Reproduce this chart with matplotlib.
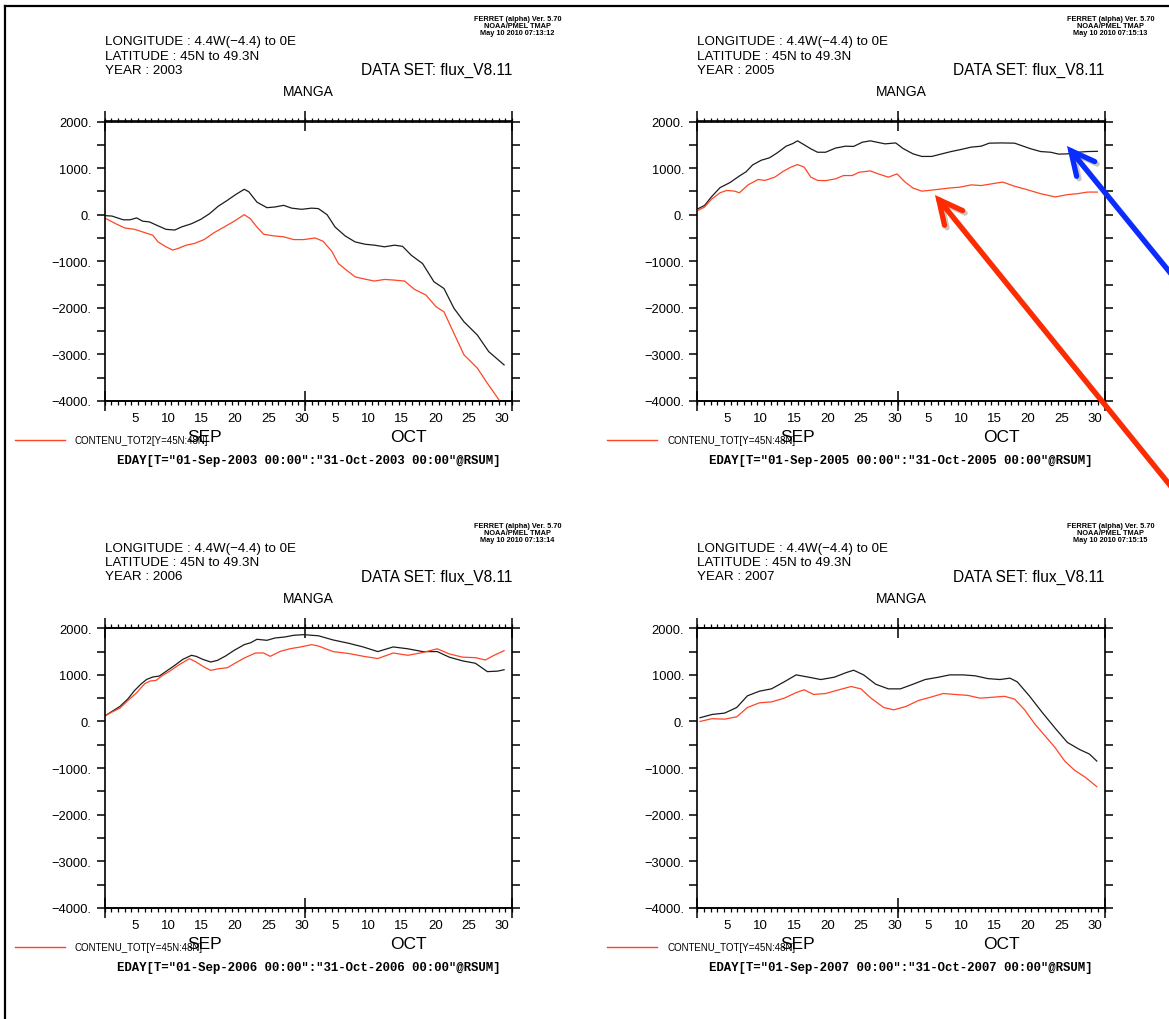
from __future__ import annotations
import matplotlib
matplotlib.use("Agg")
import matplotlib.pyplot as plt
from matplotlib.lines import Line2D
from matplotlib.patches import FancyArrowPatch
from matplotlib.ticker import FixedLocator, FuncFormatter, MultipleLocator, NullLocator

W, H = 1169, 1020
plt.rcParams["font.family"] = ["Liberation Sans", "DejaVu Sans"]

BLACK = "#1c1c1c"
RED = "#ff4526"

# x = days since 01-Sep 00:00 ; tick labels sit on day centres
TICK_DAYS = [4.5, 9.5, 14.5, 19.5, 24.5, 29.5, 34.5, 39.5, 44.5, 49.5, 54.5, 59.5]
TICK_LABELS = ["5", "10", "15", "20", "25", "30", "5", "10", "15", "20", "25", "30"]
MONTHS = ["SEP", "OCT"]
MONTH_MID = [15, 45.5]
MONTH_EDGES = [0, 30, 61]

# ---- 2003
K03_DAY = [0, 1.1, 2.8, 3.8, 4.8, 5.7, 6.7, 8, 9.2, 10.5, 11.5, 13, 14.4, 15.7, 17, 18.4, 19.6,
           20.9, 21.6, 22.8, 24.3, 25.5, 26.8, 28, 29.5, 31, 32, 33.3, 34.5, 36, 37.5, 39, 40.4,
           41.9, 43.4, 44.6, 45.9, 47.6, 49.3, 50.8, 52.3, 53.8, 55.8, 57.5, 59.8]
K03_VAL = [-20, -30, -110, -110, -70, -140, -155, -240, -315, -330, -265, -195, -100, 20, 180, 310,
           430, 545, 490, 270, 150, 165, 200, 140, 115, 140, 130, 0, -265, -455, -585, -635, -655,
           -690, -655, -680, -870, -1050, -1440, -1585, -2010, -2300, -2585, -2940, -3225]
R03_DAY = [0, 1.6, 3.0, 4.5, 6, 7.2, 8, 9.2, 10.2, 11, 12.2, 13.4, 14.9, 16.4, 17.9, 19.4, 20.9,
           21.8, 22.8, 23.8, 25.3, 26.8, 28.3, 29.8, 31.5, 32.7, 34, 35, 36.2, 37.5, 39, 40.4, 41.9,
           43.4, 44.9, 46.4, 48.1, 49.6, 50.8, 52.3, 53.8, 55.8, 57.3, 59.4]
R03_VAL = [-70, -190, -285, -315, -385, -440, -585, -690, -760, -725, -655, -620, -535, -385, -265,
           -140, 0, -85, -265, -420, -455, -475, -535, -535, -500, -570, -785, -1050, -1190, -1335,
           -1385, -1425, -1390, -1405, -1425, -1605, -1725, -1975, -2085, -2550, -3010, -3295,
           -3620, -4050]

# ---- 2005
K05_DAY = [0.15, 1.1, 2.1, 3.4, 4.9, 6.3, 7.3, 8.3, 9.6, 10.8, 12.0, 13.3, 14.3, 15.0, 16.0, 17.0,
           18.0, 19.2, 20.7, 22.2, 23.4, 24.7, 25.9, 26.9, 28.1, 29.7, 30.8, 32.3, 33.6, 35.1, 36.6,
           38.0, 39.5, 41.0, 42.5, 43.7, 45.5, 47.5, 48.5, 49.9, 51.4, 52.9, 54.1, 55.4, 56.9, 58.4,
           59.9]
K05_VAL = [130, 200, 380, 580, 690, 830, 920, 1070, 1170, 1220, 1330, 1470, 1527, 1585, 1500, 1413,
           1340, 1340, 1430, 1470, 1465, 1555, 1585, 1555, 1520, 1540, 1420, 1305, 1250, 1250, 1305,
           1355, 1400, 1450, 1470, 1535, 1540, 1535, 1485, 1415, 1355, 1340, 1300, 1305, 1340, 1355,
           1360]
R05_DAY = [0.15, 1.1, 2.1, 3.4, 4.4, 5.6, 6.3, 7.6, 9.1, 10.1, 11.6, 12.8, 14.0, 15.0, 16.0, 17.0,
           18.0, 19.2, 20.7, 21.9, 23.2, 24.2, 25.9, 27.1, 28.6, 29.9, 31.1, 32.3, 33.6, 35.6, 37.6,
           39.3, 41.0, 42.5, 44.0, 45.7, 47.5, 49.4, 51.4, 53.6, 55.4, 56.9, 58.4, 59.9]
R05_VAL = [95, 165, 330, 470, 520, 505, 470, 640, 755, 735, 805, 925, 1020, 1075, 1020, 805, 735,
           730, 770, 840, 840, 910, 940, 875, 805, 875, 700, 570, 505, 535, 570, 590, 640, 625, 660,
           700, 610, 535, 450, 380, 430, 450, 485, 485]

# ---- 2006
K06_DAY = [0, 1.1, 2.3, 3.5, 4.5, 5.5, 6.3, 7.2, 8.2, 9.2, 10.5, 11.7, 13.0, 13.7, 14.7, 15.9, 16.9,
           18.1, 19.4, 20.9, 21.9, 22.8, 24.3, 25.5, 27.0, 28.3, 29.8, 31.0, 32.0, 34.2, 36.5, 38.7,
           40.9, 43.2, 45.4, 47.6, 49.8, 51.6, 53.6, 55.5, 57.3, 58.8, 59.8]
K06_VAL = [115, 215, 323, 487, 667, 810, 903, 954, 975, 1075, 1204, 1333, 1420, 1398, 1333, 1276,
           1312, 1405, 1527, 1649, 1692, 1764, 1742, 1792, 1814, 1850, 1864, 1850, 1840, 1750, 1680,
           1600, 1500, 1600, 1560, 1500, 1500, 1380, 1300, 1250, 1070, 1080, 1110]
R06_DAY = [0, 1.1, 2.3, 3.5, 4.8, 6.0, 6.8, 7.7, 8.7, 9.7, 11.0, 12.0, 12.7, 13.7, 14.9, 15.9, 17.1,
           18.4, 19.4, 20.9, 22.6, 23.8, 24.8, 26.3, 27.8, 29.3, 31.0, 32.0, 34.2, 36.5, 38.7, 40.9,
           43.2, 45.4, 47.6, 49.8, 51.6, 53.6, 55.5, 57.0, 58.3, 59.8]
R06_VAL = [115, 201, 287, 452, 617, 810, 868, 882, 990, 1075, 1204, 1290, 1348, 1276, 1168, 1097,
           1133, 1154, 1240, 1362, 1470, 1470, 1398, 1505, 1563, 1598, 1649, 1620, 1500, 1460, 1400,
           1350, 1470, 1420, 1480, 1560, 1450, 1380, 1370, 1320, 1420, 1520]

# ---- 2007
K07_DAY = [0.4, 2.2, 4.1, 5.9, 7.5, 9.3, 11.1, 13.0, 14.8, 16.7, 18.5, 20.5, 22.3, 23.4, 24.9, 26.7,
           28.6, 30.4, 32.3, 34.1, 36.1, 37.8, 39.8, 41.6, 43.5, 45.3, 46.8, 47.9, 49.7, 51.6, 53.6,
           55.4, 57.2, 58.7, 59.8]
K07_VAL = [80, 150, 180, 300, 550, 650, 700, 850, 1000, 950, 900, 950, 1050, 1100, 1000, 800, 700,
           700, 800, 900, 950, 1000, 1000, 980, 920, 900, 930, 850, 550, 200, -150, -450, -600, -700,
           -850]
R07_DAY = [0.4, 2.2, 4.1, 5.9, 7.5, 9.3, 11.1, 13.0, 14.8, 16.0, 17.4, 19.2, 21.2, 23.0, 24.5, 26.0,
           27.9, 29.4, 31.2, 33.1, 34.9, 36.8, 38.6, 40.5, 42.3, 44.2, 46.0, 47.5, 49.0, 50.5, 52.0,
           53.5, 55.0, 56.5, 58.1, 59.8]
R07_VAL = [0, 60, 50, 100, 300, 400, 420, 500, 620, 680, 580, 600, 680, 750, 700, 500, 300, 250, 320,
           450, 520, 600, 580, 560, 500, 520, 540, 480, 250, -50, -300, -550, -850, -1050, -1200,
           -1400]

AX_W, AX_H = 407.5, 279.5


def _px(x, y):
    return x / W, 1 - y / H


def _yfmt(v, _):
    return f"{int(v)}.".replace("-", "\u2212")


def panel(fig, left, top, year, kd, kv, rd, rv, var, stamp):
    x0, y0 = _px(left, top + AX_H)
    ax = fig.add_axes([x0, y0, AX_W / W, AX_H / H])
    ax.plot(kd, kv, color=BLACK, lw=0.9)
    ax.plot(rd, rv, color=RED, lw=0.9)
    ax.set_xlim(0, 61)
    ax.set_ylim(-4000, 2000)
    for s in ax.spines.values():
        s.set_linewidth(1.2)

    ax.yaxis.set_major_locator(MultipleLocator(1000))
    ax.yaxis.set_minor_locator(MultipleLocator(500))
    ax.yaxis.set_major_formatter(FuncFormatter(_yfmt))
    ax.tick_params(axis="y", which="both", direction="out", length=6, width=1.1,
                   left=True, right=True, labelsize=9.3)

    ax.xaxis.set_major_locator(FixedLocator(TICK_DAYS))
    ax.set_xticklabels(TICK_LABELS)
    ax.xaxis.set_minor_locator(FixedLocator(list(range(0, 62))))
    ax.tick_params(axis="x", which="major", length=0, pad=8, labelsize=9.5)
    ax.tick_params(axis="x", which="minor", direction="out", length=2.8, width=0.9,
                   top=True, bottom=True)

    for loc in ("top", "bottom"):
        sec = ax.secondary_xaxis(loc)
        sec.set_xticks(MONTH_EDGES)
        sec.xaxis.set_minor_locator(NullLocator())
        sec.tick_params(direction="inout", length=14, width=1.1,
                        labelbottom=False, labeltop=False)
        sec.spines[loc].set_linewidth(1.2)

    for m, d in zip(MONTHS, MONTH_MID):
        ax.text(d, -36 / AX_H, m, transform=ax.get_xaxis_transform(),
                ha="center", va="center", fontsize=12.5)

    def t(dx, dy, s, **kw):
        fig.text(*_px(left + dx, top + dy), s, **kw)

    t(0, -80, "LONGITUDE : 4.4W(\u22124.4) to 0E", fontsize=9.6, va="center")
    t(0, -66, "LATITUDE : 45N to 49.3N", fontsize=9.6, va="center")
    t(0, -52, f"YEAR : {year}", fontsize=9.6, va="center")
    t(AX_W, -52, "DATA SET: flux_V8.11", fontsize=11.2, va="center", ha="right")
    t(AX_W / 2, -30, "MANGA", fontsize=10, va="center", ha="center")
    for i, line in enumerate(["FERRET (alpha) Ver. 5.70", "NOAA/PMEL TMAP",
                              f"May 10 2010 {stamp}"]):
        t(413, -103 + 7 * i, line, fontsize=5.3, weight="bold", va="center", ha="center")

    ly = top + AX_H + 39
    fig.add_artist(Line2D([(left - 90) / W, (left - 40) / W], [1 - ly / H] * 2,
                          color=RED, lw=1.0, transform=fig.transFigure))
    t(-30, AX_H + 39, var, fontsize=7.0, va="center")
    t(AX_W / 2, AX_H + 59,
      f'EDAY[T="01-Sep-{year} 00:00":"31-Oct-{year} 00:00"@RSUM]',
      fontsize=8.9, family="Liberation Mono", weight="bold", va="center", ha="center")
    return ax


def _arrow(fig, tail, head, color):
    for off, c, a in [((2.5, 2.5), "#000000", 0.22), ((0, 0), color, 1.0)]:
        p = FancyArrowPatch(_px(tail[0] + off[0], tail[1] + off[1]),
                            _px(head[0] + off[0], head[1] + off[1]),
                            transform=fig.transFigure,
                            arrowstyle="->,head_length=0.85,head_width=0.42",
                            mutation_scale=20, lw=3.8, color=c, alpha=a,
                            shrinkA=0, shrinkB=0, joinstyle="miter")
        fig.add_artist(p)


def run():
    fig = plt.figure(figsize=(W / 100, H / 100), dpi=100)
    fig.patch.set_facecolor("white")

    panel(fig, 104.6, 122.5, 2003, K03_DAY, K03_VAL, R03_DAY, R03_VAL,
          "CONTENU_TOT2[Y=45N:48N]", "07:13:12")
    panel(fig, 697.3, 122.5, 2005, K05_DAY, K05_VAL, R05_DAY, R05_VAL,
          "CONTENU_TOT[Y=45N:48N]", "07:15:13")
    panel(fig, 104.6, 629.3, 2006, K06_DAY, K06_VAL, R06_DAY, R06_VAL,
          "CONTENU_TOT[Y=45N:48N]", "07:13:14")
    panel(fig, 697.3, 629.3, 2007, K07_DAY, K07_VAL, R07_DAY, R07_VAL,
          "CONTENU_TOT[Y=45N:48N]", "07:15:15")

    # page frame
    fig.add_artist(Line2D([5 / W, 5 / W], [0, 1 - 7 / H], color="black", lw=1.6,
                          transform=fig.transFigure))
    fig.add_artist(Line2D([5 / W, 1], [1 - 7 / H, 1 - 7 / H], color="black", lw=1.6,
                          transform=fig.transFigure))

    # annotation arrows
    _arrow(fig, (1185, 292), (1067, 147), "#0b2cff")
    _arrow(fig, (1190, 511), (935, 196), "#ff2b00")

    fig.savefig("out.png", dpi=100)
    plt.close(fig)


if __name__ == "__main__":
    run()
